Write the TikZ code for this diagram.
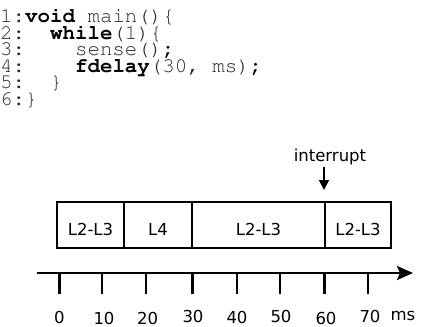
\documentclass[tikz,border=0pt]{standalone}
\usepackage{fontspec}
\setmainfont{DejaVu Sans}
\newcommand\courfont{\fontencoding{T1}\fontfamily{pcr}\selectfont}
\usetikzlibrary{arrows.meta}
\begin{document}
\begin{tikzpicture}[x=1pt,y=-1pt,
  codeline/.style={anchor=base west,inner sep=0pt,font=\courfont\fontsize{20.8}{20.8}\selectfont,text=black!85},
  lbl/.style={font=\fontsize{16.5}{16.5}\selectfont,inner sep=0pt},
  seg/.style={draw,line width=2pt,minimum height=46pt,inner sep=0pt},
  tickthin/.style={line width=2pt},
  tickthick/.style={line width=3pt},
  num/.style={lbl,anchor=base}]
\useasboundingbox (0,0) rectangle (421,327);
% code
\node[codeline] (c1) at (0,22.3) {1:\textbf{\color{black}void} main()\{};
\node[codeline] (c2) at (0,39) {2:~~\textbf{\color{black}while}(1)\{};
\node[codeline] (c3) at (0,55.6) {3:~~~~sense()\textbf{\color{black};}};
\node[codeline] (c4) at (0,72.2) {4:~~~~\textbf{\color{black}fdelay}(30,~ms)\textbf{\color{black};}};
\node[codeline] (c5) at (0,88.8) {5:~~\}};
\node[codeline] (c6) at (0,105.4) {6:\}};
% segments
\node[seg,minimum width=67pt] (s1) at (90.5,225) {};
\node[seg,minimum width=68pt] (s2) at (158,225) {};
\node[seg,minimum width=133pt] (s3) at (258.5,225) {};
\node[seg,minimum width=66pt] (s4) at (358,225) {};
\node[lbl,anchor=base] (l1) at (90.5,235) {L2-L3};
\node[lbl,anchor=base] (l2) at (158,235) {L4};
\node[lbl,anchor=base] (l3) at (258.5,235) {L2-L3};
\node[lbl,anchor=base] (l4) at (358,235) {L2-L3};
% interrupt
\node[lbl,anchor=base] (intr) at (330,161.7) {interrupt};
\coordinate (ia) at (324,167);
\coordinate (ib) at (324,190);
\draw[line width=1.5pt,-{Triangle[length=10pt,width=10pt]}] (ia) -- (ib);
% axis
\coordinate (a0) at (37,273);
\coordinate (a1) at (413,273);
\draw[line width=2.5pt,-{Stealth[length=16pt,width=14pt,inset=3pt]}] (a0) -- (a1);
\foreach \x/\s in {59/tickthick,102/tickthin,146/tickthin,192/tickthick,237/tickthin,280/tickthin,324/tickthick,368/tickthin}{
  \coordinate (t\x) at (\x,273);
  \coordinate (u\x) at (\x,294);
  \draw[\s] (t\x) -- (u\x);
}
\node[num] (n0) at (59.3,323.5) {0};
\node[num] (n10) at (104,324.3) {10};
\node[num] (n20) at (147.7,324.3) {20};
\node[num] (n30) at (193,322.2) {30};
\node[num] (n40) at (237,323) {40};
\node[num] (n50) at (281,322) {50};
\node[num] (n60) at (326,324.3) {60};
\node[num] (n70) at (370,322) {70};
\node[num] (nms) at (403,320) {ms};
\end{tikzpicture}
\end{document}
